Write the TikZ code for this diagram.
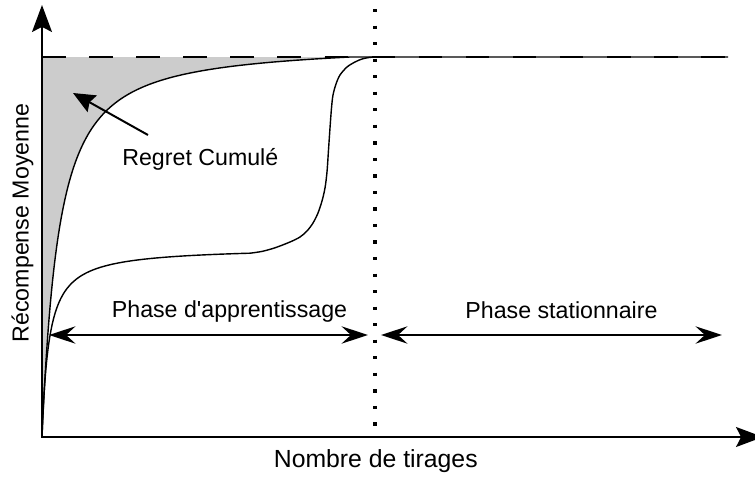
\documentclass[tikz,border=0pt]{standalone}
\usepackage{fontspec}
\setmainfont{Liberation Sans}[Ligatures=TeXOff]
\usetikzlibrary{arrows.meta}
\begin{document}
\begin{tikzpicture}[x=0.02cm,y=-0.02cm,
  declare function={
    curveOne(\u)=57+380*exp(-1.5*ln(1+\u/25))*(1-(\u/308)^2);
    curveTwo(\u)=437-190*(\u/(\u+7));
  },
  axistip/.tip={Stealth[length=15.3pt,width=11.3pt,inset=2.8pt]},
  phasetip/.tip={Stealth[length=15pt,width=9.8pt,inset=5.3pt]},
  phasearrow/.style={line width=1.7pt, phasetip-phasetip},
  curveline/.style={line width=0.8pt, black},
  optline/.style={line width=1.5pt, dash pattern=on 13.4pt off 13.4pt},
  sepline/.style={line width=1.87pt, dash pattern=on 1.87pt off 7.54pt},
  pointer/.style={line width=1.13pt, -{Stealth[length=12.5pt,width=10.8pt,inset=1.7pt]}},
  lbl/.style={inner sep=0pt, font=\fontsize{13.2}{15}\selectfont, anchor=base},
  regretfill/.style={fill=black!20},
]
\useasboundingbox (0,0) rectangle (755,477);
\clip (0,0) rectangle (755,477);

\coordinate (O) at (42,437);
\coordinate (ytip) at (42,5);
\coordinate (xtip) at (763,437);
\coordinate (topL) at (42,57);
\coordinate (topR) at (728,57);
\coordinate (sepT) at (375,9);
\coordinate (sepB) at (375,427.3);
\coordinate (pL1) at (49,335);
\coordinate (pR1) at (368,335);
\coordinate (pL2) at (381,335);
\coordinate (pR2) at (722,335);
\coordinate (regTail) at (148,135);
\coordinate (regTip) at (73,93);

% shaded cumulative regret
\fill[regretfill] plot[variable=\s,domain=0:17.5499,samples=220] ({42+\s*\s},{curveOne(\s*\s)}) -- (topL) -- cycle;

% fast curve and its plateau
\draw[curveline] plot[variable=\s,domain=0:17.5499,samples=220] ({42+\s*\s},{curveOne(\s*\s)}) -- (topR);

% S-shaped curve
\draw[curveline] plot[variable=\s,domain=0:14.4222,samples=300] ({42+\s*\s},{curveTwo(\s*\s)})
  -- plot[smooth] coordinates {(250,253.2) (262,251.4) (275,247.8) (290,242) (300,237) (307,231)
     (313,223) (318,213) (322,201) (325,188) (327,172) (328.5,150) (330,128) (331.5,108)
     (333,95) (336,84) (340,75) (347,67) (355,62) (362,59) (369,57.5) (375,57)};

% optimum (dashed)
\draw[optline] (topL) -- (topR);

% separation (dotted)
\draw[sepline] (sepT) -- (sepB);

% axes
\draw[line width=1.13pt, axistip-axistip] (ytip) -- (O) -- (xtip);

% phase arrows
\draw[phasearrow] (pL1) -- (pR1);
\draw[phasearrow] (pL2) -- (pR2);

% pointer
\draw[pointer] (regTail) -- (regTip);

% labels
\node[lbl, anchor=base west] (regret) at (122,165) {Regret Cumulé};
\node[lbl] (learn) at (229.5,317) {Phase d'apprentissage};
\node[lbl] (stat) at (561.5,318.5) {Phase stationnaire};
\node[lbl, font=\fontsize{14.1}{16}\selectfont] (xlab) at (375.8,467) {Nombre de tirages};
\node[lbl, rotate=90] (ylab) at (28.5,223) {Récompense Moyenne};
\end{tikzpicture}
\end{document}
